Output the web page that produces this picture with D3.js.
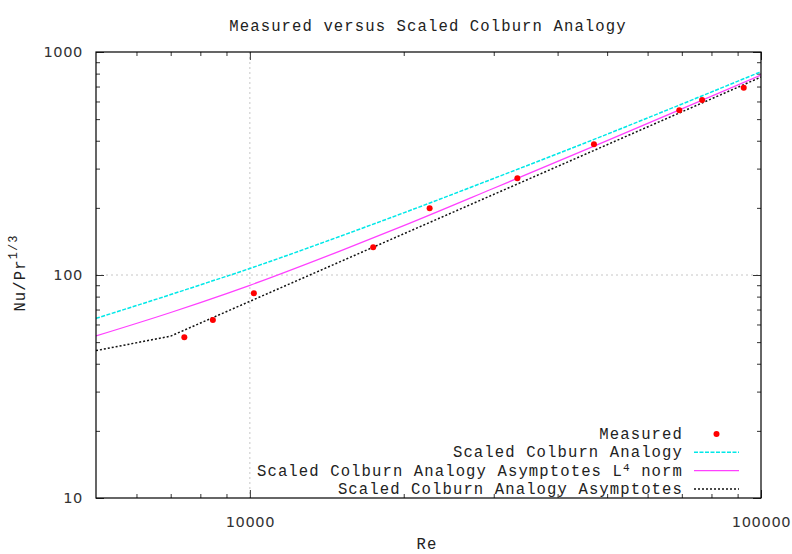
<!DOCTYPE html>
<html><head><meta charset="utf-8">
<script src="https://cdn.jsdelivr.net/npm/d3@7/dist/d3.min.js"></script>
<style>body{margin:0;background:#fff}</style>
</head><body>
<svg id="c" width="792" height="554" xmlns="http://www.w3.org/2000/svg"></svg>
<script>
// ---- data ----
const reMeasured = [7444, 8465, 10181, 17428, 22475, 33367, 47116, 69210, 76690, 92512];
const nuMeasured = [52.6, 62.9, 82.8, 133.1, 199.1, 271.4, 385.6, 547.6, 609, 691.8];

const reCurve = [5000, 7000, 8000, 10000, 15000, 20000, 30000, 50000, 70000, 100000];
const colburn = [63.9, 81.7, 90.3, 107, 149, 190, 271, 428, 584, 816];
const colburnL4 = [53.3, 67.9, 75.2, 89.9, 128, 166.4, 244.9, 400.6, 555.8, 788];

const reAsym = [5000, 7000, 10000, 20000, 50000, 100000];
const colburnAsym = [45.8, 53.2, 76.2, 153, 384, 772];

const xTickValues = [10000, 100000];
const xTickLabels = ["10000", "100000"];
const xMinorTicks = [6000, 7000, 8000, 9000, 20000, 30000, 40000, 50000, 60000, 70000, 80000, 90000];
const yTickValues = [10, 100, 1000];
const yTickLabels = ["10", "100", "1000"];
const yMinorTicks = [20, 30, 40, 50, 60, 70, 80, 90, 200, 300, 400, 500, 600, 700, 800, 900];

const titleText = "Measured versus Scaled Colburn Analogy";
const xLabel = "Re";
const legendNames = ["Measured", "Scaled Colburn Analogy", "Scaled Colburn Analogy Asymptotes L", "Scaled Colburn Analogy Asymptotes"];

// ---- drawing ----
const mono = "'Liberation Mono','DejaVu Sans Mono',monospace";
const sans = "'DejaVu Sans',sans-serif";
const fs = 15.6, ls = 1.1;
const svg = d3.select("#c");
const L = 96, R = 761, T = 52, B = 498;
const x = d3.scaleLog().domain([5000, 100000]).range([L, R]);
const y = d3.scaleLog().domain([10, 1000]).range([B, T]);

// grid (only interior major)
const grid = svg.append("g").attr("stroke", "#b8b8b8").attr("stroke-width", 0.8).attr("stroke-dasharray", "2,3");
grid.selectAll("line.gx").data(xTickValues.filter(v => v > 5000 && v < 100000)).join("line")
  .attr("x1", d => x(d)).attr("x2", d => x(d)).attr("y1", T).attr("y2", B);
grid.selectAll("line.gy").data(yTickValues.filter(v => v > 10 && v < 1000)).join("line")
  .attr("y1", d => y(d)).attr("y2", d => y(d)).attr("x1", L).attr("x2", R);

// axes
function styleAxis(g) {
  g.select(".domain").remove();
  g.selectAll(".tick line").attr("stroke", "#333").attr("stroke-width", 1);
}
const fmtX = d => xTickLabels[xTickValues.indexOf(d)];
const fmtY = d => yTickLabels[yTickValues.indexOf(d)];

svg.append("g").attr("transform", `translate(0,${B})`)
  .call(d3.axisBottom(x).tickValues(xTickValues).tickFormat(fmtX).tickSize(-8).tickPadding(18.5)).call(styleAxis);
svg.append("g").attr("transform", `translate(0,${B})`)
  .call(d3.axisBottom(x).tickValues(xMinorTicks).tickFormat("").tickSize(-4)).call(styleAxis);
svg.append("g").attr("transform", `translate(0,${T})`)
  .call(d3.axisTop(x).tickValues(xTickValues).tickFormat("").tickSize(-8)).call(styleAxis);
svg.append("g").attr("transform", `translate(0,${T})`)
  .call(d3.axisTop(x).tickValues(xMinorTicks).tickFormat("").tickSize(-4)).call(styleAxis);

svg.append("g").attr("transform", `translate(${L},0)`)
  .call(d3.axisLeft(y).tickValues(yTickValues).tickFormat(fmtY).tickSize(-8).tickPadding(13)).call(styleAxis);
svg.append("g").attr("transform", `translate(${L},0)`)
  .call(d3.axisLeft(y).tickValues(yMinorTicks).tickFormat("").tickSize(-4)).call(styleAxis);
svg.append("g").attr("transform", `translate(${R},0)`)
  .call(d3.axisRight(y).tickValues(yTickValues).tickFormat("").tickSize(-8)).call(styleAxis);
svg.append("g").attr("transform", `translate(${R},0)`)
  .call(d3.axisRight(y).tickValues(yMinorTicks).tickFormat("").tickSize(-4)).call(styleAxis);

svg.selectAll(".tick text").attr("font-family", sans).attr("font-size", 14.6)
  .attr("letter-spacing", 0.6).attr("fill", "#333");

// series
const smooth = d3.line().x(d => x(d[0])).y(d => y(d[1])).curve(d3.curveMonotoneX);
const straight = d3.line().x(d => x(d[0])).y(d => y(d[1]));
svg.append("clipPath").attr("id", "pc").append("rect")
  .attr("x", L).attr("y", T).attr("width", R - L).attr("height", B - T);
const plot = svg.append("g").attr("clip-path", "url(#pc)");

const styles = [
  null,
  {stroke: "#00e8e8", dash: "4,1.5", w: 1.5},
  {stroke: "#ff40ff", dash: null, w: 1.3},
  {stroke: "#111", dash: "2,2", w: 1.5}
];
const paths = [
  null,
  smooth(d3.zip(reCurve, colburn)),
  smooth(d3.zip(reCurve, colburnL4)),
  straight(d3.zip(reAsym, colburnAsym))
];
[1, 2, 3].forEach(i => {
  plot.append("path").attr("d", paths[i]).attr("fill", "none")
    .attr("stroke", styles[i].stroke).attr("stroke-width", styles[i].w)
    .attr("stroke-dasharray", styles[i].dash);
});

plot.selectAll("circle.m").data(d3.zip(reMeasured, nuMeasured)).join("circle")
  .attr("cx", d => x(d[0])).attr("cy", d => y(d[1])).attr("r", 3).attr("fill", "#ff0000");

// border
svg.append("rect").attr("x", L).attr("y", T).attr("width", R - L).attr("height", B - T)
  .attr("fill", "none").attr("stroke", "#000").attr("stroke-width", 1.2);

// title and labels
svg.append("text").attr("x", 428).attr("y", 31).attr("text-anchor", "middle")
  .attr("font-family", mono).attr("font-size", fs).attr("letter-spacing", ls).attr("fill", "#222").text(titleText);
svg.append("text").attr("x", 427).attr("y", 549).attr("text-anchor", "middle")
  .attr("font-family", mono).attr("font-size", fs).attr("letter-spacing", ls).attr("fill", "#222").text(xLabel);
const yl = svg.append("text").attr("transform", "translate(25,273) rotate(-90)").attr("text-anchor", "middle")
  .attr("font-family", mono).attr("font-size", fs).attr("letter-spacing", ls).attr("fill", "#222");
yl.append("tspan").text("Nu/Pr");
yl.append("tspan").attr("dy", -8).attr("font-size", 12).text("1/3");

// legend
const legY = [434, 452.3, 470.6, 488.9];
const legText = 683, s0 = 694, s1 = 739;
const lg = svg.append("g").attr("font-family", mono).attr("font-size", fs).attr("letter-spacing", ls).attr("fill", "#222");
legendNames.forEach((name, i) => {
  const t = lg.append("text").attr("x", legText).attr("y", legY[i]).attr("dy", "0.32em").attr("text-anchor", "end");
  if (i === 2) {
    t.append("tspan").text(name);
    t.append("tspan").attr("dy", -5).attr("font-size", 11).text("4");
    t.append("tspan").attr("dy", 5).text(" norm");
  } else {
    t.text(name);
  }
  if (i === 0) {
    lg.append("circle").attr("cx", (s0 + s1) / 2).attr("cy", legY[i]).attr("r", 3).attr("fill", "#ff0000");
  } else {
    lg.append("line").attr("x1", s0).attr("x2", s1).attr("y1", legY[i]).attr("y2", legY[i])
      .attr("stroke", styles[i].stroke).attr("stroke-width", styles[i].w).attr("stroke-dasharray", styles[i].dash);
  }
});
</script>
</body></html>
